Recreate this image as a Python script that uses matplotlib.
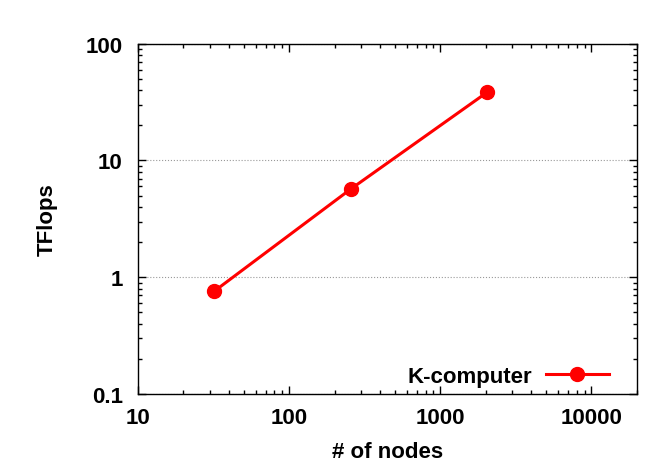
import matplotlib
matplotlib.use("Agg")
import matplotlib.pyplot as plt
from matplotlib.ticker import LogLocator, FixedLocator, FixedFormatter, NullFormatter

plt.rcParams['font.family'] = ['Liberation Sans', 'DejaVu Sans']
plt.rcParams['font.weight'] = 'bold'

# data
nodes = [32, 256, 2048]
tflops = [0.76, 5.7, 38.5]
series_label = "K-computer"
x_ticks = [10, 100, 1000, 10000]
x_tick_labels = ["10", "100", "1000", "10000"]
y_ticks = [0.1, 1, 10, 100]
y_tick_labels = ["0.1", "1", "10", "100"]

fig = plt.figure(figsize=(6.64, 4.64), dpi=100)
ax = fig.add_axes([0.2078, 0.1487, 0.7515, 0.755])

ax.plot(nodes, tflops, color='#ff0000', lw=2.2, marker='o', markersize=10,
        label=series_label)

ax.set_xscale('log')
ax.set_yscale('log')
ax.set_xlim(10, 20000)
ax.set_ylim(0.1, 100)

ax.xaxis.set_major_locator(FixedLocator(x_ticks))
ax.xaxis.set_major_formatter(FixedFormatter(x_tick_labels))
ax.yaxis.set_major_locator(FixedLocator(y_ticks))
ax.yaxis.set_major_formatter(FixedFormatter(y_tick_labels))
ax.xaxis.set_minor_locator(LogLocator(base=10, subs=range(2, 10), numticks=20))
ax.yaxis.set_minor_locator(LogLocator(base=10, subs=range(2, 10), numticks=20))
ax.xaxis.set_minor_formatter(NullFormatter())
ax.yaxis.set_minor_formatter(NullFormatter())

ax.tick_params(which='both', direction='in', top=True, right=True, width=1.0)
ax.tick_params(which='major', length=5.5, labelsize=16)
ax.tick_params(axis='x', which='major', pad=9)
ax.tick_params(axis='y', which='major', pad=11)
ax.tick_params(which='minor', length=3)

ax.yaxis.grid(True, which='major', color='#999999', linestyle=':', lw=0.8)

for s in ax.spines.values():
    s.set_linewidth(1.0)

ax.set_xlabel("# of nodes", fontsize=16, fontweight='bold', labelpad=10)
ax.set_ylabel("TFlops", fontsize=16, fontweight='bold', labelpad=20)

ax.legend(loc='lower right', frameon=False, markerfirst=False, fontsize=16,
          handlelength=2.85, handletextpad=0.6, borderaxespad=0, borderpad=0,
          bbox_to_anchor=(0.944, 0.02))

fig.savefig("out.png", dpi=100)
